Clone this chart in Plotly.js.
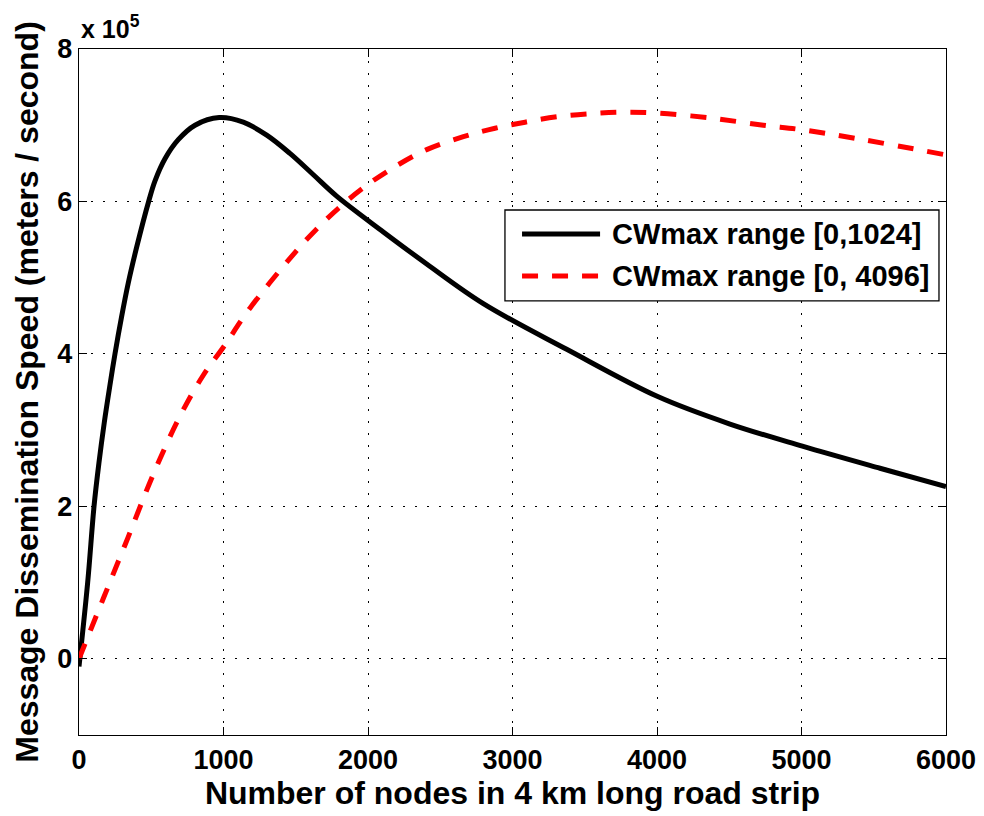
<!DOCTYPE html>
<html>
<head>
<meta charset="utf-8">
<script src="https://cdn.plot.ly/plotly-3.0.1.min.js"></script>
<style>html,body{margin:0;padding:0;background:#fff;}#chart{width:984px;height:816px;}</style>
</head>
<body>
<div id="chart"></div>
<script>
// Values in units of 10^5 meters/second
const nodesBlack = [0, 60, 104, 138, 175, 215, 249, 295, 341, 399, 482, 526, 595, 687, 803, 970, 1137, 1299, 1460, 1622, 1783, 2106, 2406, 2798, 3375, 4005, 4505, 5006, 5543, 6000];
const speedBlack = [-0.1, 1.0, 2.0, 2.57, 3.1, 3.6, 4.0, 4.49, 4.93, 5.40, 6.0, 6.27, 6.56, 6.81, 7.0, 7.1, 7.04, 6.87, 6.63, 6.35, 6.07, 5.6, 5.18, 4.66, 4.06, 3.44, 3.08, 2.79, 2.50, 2.26];
const nodesRed = [0, 168, 341, 514, 698, 860, 1000, 1183, 1490, 1640, 1801, 1968, 2164, 2406, 2660, 2879, 3087, 3306, 3536, 3750, 4005, 4390, 4736, 5006, 5428, 6000];
const speedRed = [0, 0.79, 1.6, 2.42, 3.18, 3.72, 4.09, 4.6, 5.32, 5.63, 5.92, 6.18, 6.43, 6.68, 6.85, 6.96, 7.04, 7.11, 7.15, 7.17, 7.16, 7.09, 7.00, 6.94, 6.81, 6.61];
const seriesNames = ["CWmax range [0,1024]", "CWmax range [0, 4096]"];
const xTicks = [0, 1000, 2000, 3000, 4000, 5000, 6000];
const yTicks = [0, 2, 4, 6, 8];

const FONT = "Liberation Sans, Arial, Helvetica, sans-serif";
const RED_DASH = "16px,14px";

const traces = [
  {x: nodesBlack, y: speedBlack, name: seriesNames[0], mode: "lines", showlegend: false,
   line: {color: "#000000", width: 5, shape: "spline", smoothing: 1}},
  {x: nodesRed, y: speedRed, name: seriesNames[1], mode: "lines", showlegend: false,
   line: {color: "#ff0000", width: 5, dash: RED_DASH, shape: "spline", smoothing: 1}}
];

const axisCommon = {
  showline: true, mirror: "ticks", linecolor: "#000", linewidth: 1.3,
  ticks: "inside", ticklen: 8, tickcolor: "#000", tickwidth: 1,
  showgrid: true, gridcolor: "#000", gridwidth: 1, griddash: "2px,10px",
  zeroline: false,
  tickfont: {family: FONT, size: 27, color: "#000", weight: 700}
};

// legend box geometry (paper coordinates of the plot area)
const leg = {x0: 0.4913, x1: 0.9919, y0: 0.6327, y1: 0.7653,
             lx0: 0.511, lx1: 0.601, tx: 0.6125, rows: [0.7303, 0.6691]};

const layout = {
  width: 984, height: 816,
  margin: {l: 79, r: 38, t: 49, b: 81, pad: 0},
  paper_bgcolor: "#fff", plot_bgcolor: "#fff",
  font: {family: FONT, color: "#000"},
  xaxis: Object.assign({}, axisCommon, {
    range: [0, 6000], tickvals: xTicks, ticktext: xTicks.map(String),
    title: {text: "Number of nodes in 4 km long road strip", standoff: 4,
            font: {family: FONT, size: 32, color: "#000", weight: 700}}
  }),
  yaxis: Object.assign({}, axisCommon, {
    range: [-1, 8], tickvals: yTicks, ticktext: yTicks.map(String),
    title: {text: "Message Dissemination Speed (meters / second)", standoff: 9,
            font: {family: FONT, size: 32, color: "#000", weight: 700}}
  }),
  showlegend: false,
  shapes: [
    {type: "rect", xref: "paper", yref: "paper", x0: leg.x0, x1: leg.x1, y0: leg.y0, y1: leg.y1,
     fillcolor: "#fff", line: {color: "#000", width: 1.3}, layer: "above"},
    {type: "line", xref: "paper", yref: "paper", x0: leg.lx0, x1: leg.lx1, y0: leg.rows[0], y1: leg.rows[0],
     line: {color: "#000", width: 5}, layer: "above"},
    {type: "line", xref: "paper", yref: "paper", x0: leg.lx0, x1: leg.lx1, y0: leg.rows[1], y1: leg.rows[1],
     line: {color: "#ff0000", width: 5, dash: RED_DASH}, layer: "above"}
  ],
  annotations: [
    {xref: "paper", yref: "paper", x: 0, y: 1, xanchor: "left", yanchor: "bottom",
     yshift: 4, showarrow: false, text: "x 10<sup>5</sup>",
     font: {family: FONT, size: 25, color: "#000", weight: 700}},
    {xref: "paper", yref: "paper", x: leg.tx, y: leg.rows[0], xanchor: "left", yanchor: "middle",
     showarrow: false, text: seriesNames[0],
     font: {family: FONT, size: 29, color: "#000", weight: 700}},
    {xref: "paper", yref: "paper", x: leg.tx, y: leg.rows[1], xanchor: "left", yanchor: "middle",
     showarrow: false, text: seriesNames[1],
     font: {family: FONT, size: 29, color: "#000", weight: 700}}
  ]
};

Plotly.newPlot("chart", traces, layout, {displayModeBar: false, staticPlot: true});
</script>
</body>
</html>
